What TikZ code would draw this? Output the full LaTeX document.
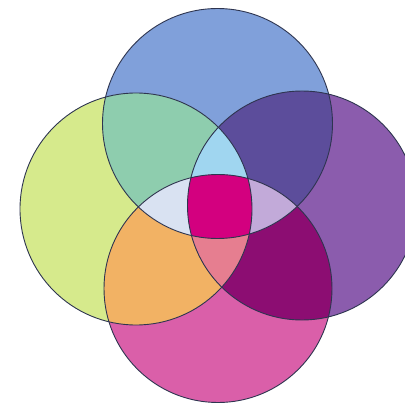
\documentclass[tikz,border=0pt]{standalone}
\definecolor{cT}{HTML}{80A0DA}
\definecolor{cL}{HTML}{D6EA8C}
\definecolor{cR}{HTML}{8B5CAD}
\definecolor{cB}{HTML}{DA5FA9}
\definecolor{cTL}{HTML}{8ECDAE}
\definecolor{cTR}{HTML}{5C4D9B}
\definecolor{cLB}{HTML}{F2B264}
\definecolor{cRB}{HTML}{8C0D72}
\definecolor{cTLR}{HTML}{A0D6F0}
\definecolor{cTLB}{HTML}{D9E2F2}
\definecolor{cTRB}{HTML}{C2AAD9}
\definecolor{cLRB}{HTML}{E67E90}
\definecolor{cAll}{HTML}{D3007F}
\definecolor{edge}{HTML}{2E3550}
\begin{document}
\begin{tikzpicture}[x=1pt,y=-1pt,
  outline/.style={draw=edge,line width=0.9pt}]
\useasboundingbox (0,0) rectangle (405,404);
\fill[white] (0,0) rectangle (405,404);
\def\T{(217.5,123.5) circle[radius=115pt]}
\def\L{(136,209) circle[radius=116pt]}
\def\R{(302,205.5) circle[radius=114.5pt]}
\def\B{(218,288.5) circle[radius=114pt]}
% single
\fill[cT] \T; \fill[cL] \L; \fill[cR] \R; \fill[cB] \B;
% pairs
\begin{scope}\clip \T; \fill[cTL] \L; \end{scope}
\begin{scope}\clip \T; \fill[cTR] \R; \end{scope}
\begin{scope}\clip \L; \fill[cLB] \B; \end{scope}
\begin{scope}\clip \R; \fill[cRB] \B; \end{scope}
% triples
\begin{scope}\clip \T; \clip \L; \fill[cTLR] \R; \end{scope}
\begin{scope}\clip \T; \clip \L; \fill[cTLB] \B; \end{scope}
\begin{scope}\clip \T; \clip \R; \fill[cTRB] \B; \end{scope}
\begin{scope}\clip \L; \clip \R; \fill[cLRB] \B; \end{scope}
% all four
\begin{scope}\clip \T; \clip \L; \clip \R; \fill[cAll] \B; \end{scope}
% outlines
\draw[outline] \T; \draw[outline] \L; \draw[outline] \R; \draw[outline] \B;
\end{tikzpicture}
\end{document}
